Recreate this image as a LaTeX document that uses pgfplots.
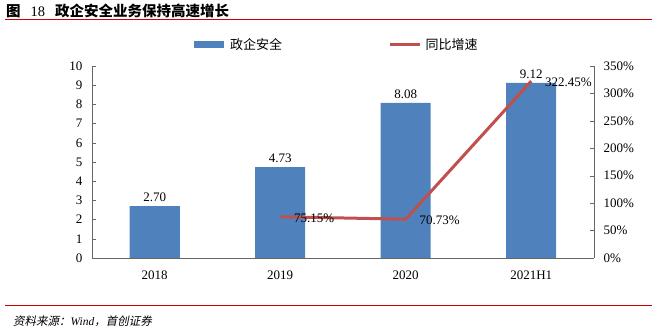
\documentclass[border=0pt]{standalone}
\usepackage{pgfplots}
\pgfplotsset{compat=1.18}
\usepackage{fontspec}
\setmainfont{Liberation Serif}
\newfontfamily\cjk{Noto Sans CJK SC}
\newfontfamily\cjkit[FakeSlant=0.2]{Noto Sans CJK SC}
\definecolor{barblue}{RGB}{79,129,189}
\definecolor{linered}{RGB}{192,80,77}
\definecolor{hdrred}{RGB}{200,0,0}
\begin{document}
\begin{tikzpicture}[x=1pt,y=1pt]
\path[use as bounding box] (0,0) rectangle (657,332);
% header and footer
\node[anchor=west,font=\fontsize{14.5}{16}\selectfont,inner sep=0pt] at (6,321) {{\cjk\bfseries 图}\hspace{10pt}18\hspace{10pt}{\cjk\bfseries 政企安全业务保持高速增长}};
\draw[hdrred,line width=1pt] (5,312.5) -- (652,312.5);
\draw[hdrred,line width=1pt] (5,26) -- (652,26);
\node[anchor=west,font=\fontsize{11.5}{14}\selectfont,inner sep=0pt] at (13,11) {{\cjkit 资料来源：}\textit{Wind}{\cjkit ，首创证券}};
\begin{axis}[
  at={(92pt,74pt)}, anchor=south west,
  scale only axis, width=502pt, height=192pt,
  xmin=-0.5, xmax=3.5, ymin=0, ymax=10,
  xtick={0,1,2,3}, xticklabels={2018,2019,2020,2021H1},
  ytick={0,1,...,10},
  axis y line*=left, axis x line*=bottom,
  axis line style={-, draw=gray!80!black},
  tick align=inside, major tick length=4pt,
  ytick style={draw=gray!80!black},
  xtick style={draw=none},
  tick label style={font=\fontsize{13}{15}\selectfont},
  /pgf/number format/assume math mode=true,
  yticklabel style={xshift=-6pt},
  xticklabel style={yshift=-5pt},
  ybar, bar width=50pt,
  nodes near coords={\pgfmathprintnumber[fixed,fixed zerofill,precision=2]{\pgfplotspointmeta}},
  nodes near coords style={font=\fontsize{13}{15}\selectfont, yshift=1pt},
]
\addplot[fill=barblue, draw=none] coordinates {(0,2.70) (1,4.73) (2,8.08) (3,9.12)};
\end{axis}
\begin{axis}[
  at={(92pt,74pt)}, anchor=south west,
  scale only axis, width=502pt, height=192pt,
  xmin=-0.5, xmax=3.5, ymin=0, ymax=350,
  ytick={0,50,...,350},
  yticklabel={\pgfmathprintnumber{\tick}\%},
  axis y line*=right, axis x line=none,
  axis line style={-, draw=gray!80!black},
  tick align=inside, major tick length=4pt,
  ytick style={draw=gray!80!black},
  tick label style={font=\fontsize{13}{15}\selectfont},
  /pgf/number format/assume math mode=true,
  yticklabel style={xshift=6pt},
  legend style={at={(0.488,1.055)}, anchor=south, draw=none, fill=none,
    legend columns=2, font=\cjk\fontsize{13}{15}\selectfont,
    /tikz/every even column/.append style={column sep=104pt}},
  legend image code/.code={\draw[#1] (0pt,0pt) -- (30pt,0pt); \path[draw=none,fill=none] (34pt,0pt) circle (0pt);},
]
\addlegendimage{legend image code/.code={\fill[barblue,draw=none] (0pt,-3.5pt) rectangle (30pt,3.5pt); \path[draw=none,fill=none] (34pt,0pt) circle (0pt);}}
\addlegendentry{政企安全}
\addplot[linered, line width=3pt, mark=none,
  nodes near coords={\pgfmathprintnumber[fixed,fixed zerofill,precision=2]{\pgfplotspointmeta}\%},
  nodes near coords style={font=\fontsize{13}{15}\selectfont, anchor=west, xshift=9pt, yshift=-1pt, text=black}]
  coordinates {(1,75.15) (2,70.73) (3,322.45)};
\addlegendentry{同比增速}
\end{axis}
\end{tikzpicture}
\end{document}
